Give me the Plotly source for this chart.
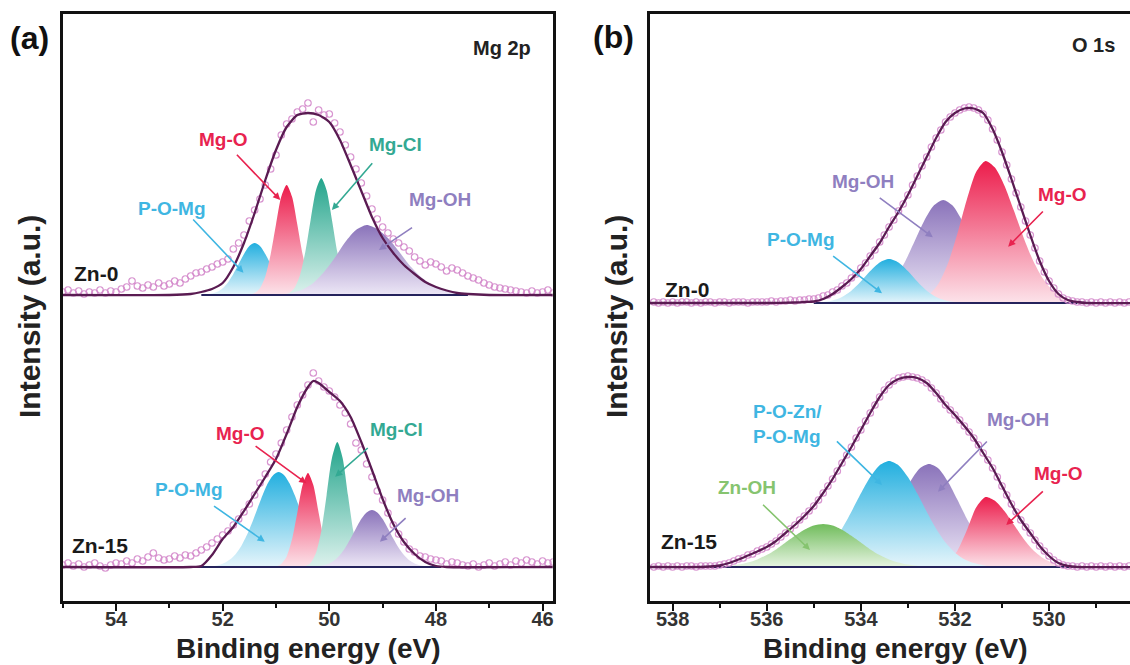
import plotly.graph_objects as go

W, H = 1130, 665
FONT = "Liberation Sans, Arial, Helvetica, sans-serif"

# ===================== DATA =====================
# Heights are intensities (a.u.) above each spectrum's own baseline; spectra are stacked.
# ---------- Panel (a): Mg 2p ----------
a_base_zn0 = 306
a_base_zn15 = 34

a_raw_start, a_raw_step = 55.0, 0.1
a_zn0_raw = [3, 5, 2, 4, 1, 3, 2, 5, 2, 4,
             3, 6, 8, 14, 9, 7, 10, 8, 12, 9,
             11, 14, 12, 16, 19, 22, 23, 26, 28, 31,
             33, 36, 46, 52, 60, 74, 85, 96, 110, 126,
             140, 160, 171, 176, 183, 186, 192, 173, 185, 180,
             181, 172, 163, 150, 138, 126, 112, 99, 86, 76,
             68, 62, 56, 52, 48, 44, 38, 34, 30, 33,
             31, 28, 24, 27, 25, 22, 19, 17, 15, 12,
             10, 8, 7, 6, 5, 4, 3, 2, 4, 2,
             3, 5, 2]
a_zn15_raw = [2, 4, 1, 3, 0, 2, 4, 1, -1, 2,
              4, 3, 6, 4, 8, 6, 10, 14, 9, 7,
              8, 11, 9, 12, 11, 14, 17, 20, 24, 28,
              32, 36, 42, 48, 55, 63, 72, 84, 93, 105,
              113, 124, 137, 150, 162, 172, 182, 194, 186, 180,
              176, 170, 162, 154, 143, 124, 117, 103, 90, 76,
              67, 54, 42, 33, 25, 18, 15, 11, 10, 8,
              7, 6, 3, 5, 4, 2, 1, 3, 0, 2,
              4, 1, 3, 5, 2, 6, 4, 7, 5, 3,
              6, 4, 5]

a_zn0_fit_x = [55.0, 53.0, 52.6, 52.4, 52.2, 52.0, 51.8, 51.6, 51.4, 51.2, 51.0, 50.8, 50.6, 50.4, 50.2,
               50.0, 49.8, 49.6, 49.4, 49.2, 49.0, 48.8, 48.6, 48.4, 48.2, 48.0, 47.8, 47.6, 47.4, 47.0, 45.8]
a_zn0_fit_y = [0, 0, 1, 3, 6, 12, 28, 52, 82, 115, 145, 168, 180, 182, 180,
               173, 155, 130, 104, 78, 57, 42, 30, 21, 13, 8, 4.5, 2, 1, 0, 0]
a_zn15_fit_x = [55.0, 52.6, 52.4, 52.2, 52.0, 51.8, 51.6, 51.4, 51.2, 51.0, 50.8, 50.6, 50.4, 50.3,
                50.2, 50.0, 49.8, 49.6, 49.4, 49.2, 49.0, 48.8, 48.6, 48.4, 48.2, 48.0, 47.8, 45.8]
a_zn15_fit_y = [0, 0, 1, 12, 28, 40, 56, 73, 90, 108, 133, 160, 180, 186,
                184, 175, 166, 150, 125, 97, 68, 43, 25, 13, 5, 1, 0, 0]

# components, Zn-0
a_zn0_pomg_x = [52.4, 52.3, 52.2, 52.1, 52.0, 51.9, 51.8, 51.7, 51.6, 51.5, 51.4,
                51.3, 51.2, 51.1, 51.0, 50.9, 50.8, 50.7, 50.6, 50.5, 50.4]
a_zn0_pomg_y = [0, 0.5, 1.4, 3.2, 6.8, 12.6, 21, 31, 41, 49, 52, 49, 41, 31, 21, 12.6, 6.8, 3.2, 1.4, 0.5, 0]
a_zn0_mgo_x = [51.6, 51.5, 51.4, 51.3, 51.2, 51.1, 51.0, 50.9, 50.8, 50.7, 50.6, 50.5, 50.4, 50.3, 50.2, 50.1, 50.0]
a_zn0_mgo_y = [0, 0.5, 2, 6.8, 18.6, 40.5, 70.5, 98.4, 110, 98.4, 70.5, 40.5, 18.6, 6.8, 2, 0.5, 0]
a_zn0_mgcl_x = [50.95, 50.85, 50.75, 50.65, 50.55, 50.45, 50.35, 50.25, 50.15,
                50.05, 49.95, 49.85, 49.75, 49.65, 49.55, 49.45, 49.35]
a_zn0_mgcl_y = [0, 0.5, 2.1, 7.3, 19.8, 43, 75, 104.7, 117, 104.7, 75, 43, 19.8, 7.3, 2.1, 0.5, 0]
a_zn0_mgoh_x = [51.1, 50.9, 50.7, 50.5, 50.3, 50.1, 49.9, 49.7, 49.5, 49.3,
                49.1, 48.9, 48.7, 48.5, 48.3, 48.1, 47.9, 47.7, 47.5, 47.3]
a_zn0_mgoh_y = [0, 0.7, 2.1, 5.4, 12, 23, 37, 53, 65, 70, 66, 57, 44, 30, 19, 11, 5.5, 2.5, 1, 0]

# components, Zn-15
a_zn15_pomg_x = [52.25, 52.15, 52.05, 51.95, 51.85, 51.75, 51.65, 51.55, 51.45, 51.35, 51.25, 51.15, 51.05,
                 50.95, 50.85, 50.75, 50.65, 50.55, 50.45, 50.35, 50.25, 50.15, 50.05, 49.95, 49.85, 49.75, 49.65]
a_zn15_pomg_y = [0, 1.1, 2.3, 4.4, 7.9, 13.3, 21, 31.4, 44, 58, 72, 84, 92.1, 95,
                 92.1, 84, 72, 58, 44, 31.4, 21, 13.3, 7.9, 4.4, 2.3, 1.1, 0]
a_zn15_mgo_x = [51.1, 51.0, 50.9, 50.8, 50.7, 50.6, 50.5, 50.4, 50.3, 50.2, 50.1, 50.0, 49.9, 49.8, 49.7]
a_zn15_mgo_y = [0, 0.7, 3.1, 10.5, 27.4, 54.3, 82, 94, 82, 54.3, 27.4, 10.5, 3.1, 0.7, 0]
a_zn15_mgcl_x = [50.55, 50.45, 50.35, 50.25, 50.15, 50.05, 49.95, 49.85, 49.75, 49.65, 49.55, 49.45, 49.35, 49.25, 49.15]
a_zn15_mgcl_y = [0, 0.9, 4, 14, 36, 72, 109, 125, 109, 72, 36, 14, 4, 0.9, 0]
a_zn15_mgoh_x = [50.3, 50.2, 50.1, 50.0, 49.9, 49.8, 49.7, 49.6, 49.5, 49.4, 49.3, 49.2,
                 49.1, 49.0, 48.9, 48.8, 48.7, 48.6, 48.5, 48.4, 48.3, 48.2, 48.1]
a_zn15_mgoh_y = [0, 0.7, 1.7, 3.6, 6.8, 12, 19.3, 28.5, 38.6, 48, 54.6, 57,
                 54.6, 48, 38.6, 28.5, 19.3, 12, 6.8, 3.6, 1.7, 0.7, 0]

# ---------- Panel (b): O 1s ----------
b_base_zn0 = 298
b_base_zn15 = 34

b_raw_start, b_raw_step = 538.4, 0.1
b_zn0_raw = [1, 0, 1, 0, 1, 0, 1, 1, 0, 1,
             0, 1, 1, 0, 1, 1, 0, 1, 1, 1,
             0, 1, 1, 1, 1, 2, 1, 2, 2, 3,
             2, 3, 3, 4, 4, 5, 7, 8, 11, 13,
             17, 20, 25, 29, 35, 40, 47, 53, 61, 68,
             76, 83, 92, 99, 108, 118, 127, 137, 146, 156,
             165, 173, 181, 186, 190, 193, 195, 196, 195, 193,
             189, 183, 174, 163, 151, 138, 124, 110, 96, 82,
             68, 55, 42, 31, 22, 15, 9, 5, 3, 2,
             1, 1, 0, 1, 0, 1, 0, 1, 0, 1,
             0, 1]
b_zn15_raw = [0, 1, 0, 1, 0, 1, 0, 1, 1, 0,
              1, 1, 1, 1, 2, 3, 4, 6, 8, 9,
              12, 13, 16, 18, 20, 23, 26, 30, 34, 38,
              42, 47, 51, 56, 61, 67, 74, 81, 88, 96,
              104, 112, 120, 129, 137, 146, 154, 162, 170, 177,
              182, 186, 189, 190, 191, 190, 189, 187, 184, 179,
              174, 168, 162, 157, 152, 147, 141, 135, 129, 122,
              114, 107, 99, 90, 81, 72, 63, 55, 47, 40,
              34, 27, 21, 16, 11, 7, 4, 2, 1, 1,
              0, 1, 0, 1, 0, 1, 0, 1, 0, 1,
              0, 1]

b_zn0_fit_x = [538.5, 536.0, 535.4, 535.2, 535.0, 534.8, 534.6, 534.4, 534.2, 534.0, 533.8, 533.6, 533.4, 533.2,
               533.0, 532.8, 532.6, 532.4, 532.2, 532.0, 531.8, 531.6, 531.4, 531.2, 531.0, 530.8, 530.6, 530.4,
               530.2, 530.0, 529.8, 529.6, 529.4, 529.2, 528.2]
b_zn0_fit_y = [0, 0, 0.5, 1, 1.5, 4, 9, 16, 24, 34, 47, 60, 76, 91,
               108, 127, 146, 165, 181, 190, 194.5, 194.5, 190, 174, 151, 124, 96, 68,
               42, 22, 9, 3, 1, 0, 0]
b_zn15_fit_x = [538.5, 537.4, 537.2, 537.0, 536.8, 536.6, 536.4, 536.2, 536.0, 535.8, 535.6, 535.4, 535.2, 535.0,
                534.8, 534.6, 534.4, 534.2, 534.0, 533.8, 533.6, 533.4, 533.2, 533.0, 532.8, 532.6, 532.4, 532.2,
                532.0, 531.8, 531.6, 531.4, 531.2, 531.0, 530.8, 530.6, 530.4, 530.2, 530.0, 529.8, 529.6, 529.4, 528.2]
b_zn15_fit_y = [0, 0, 0.5, 1.5, 4, 7.5, 11.5, 15.5, 20, 26, 34, 42, 51, 61,
                74, 88, 104, 120, 137, 154, 170, 182, 188, 190, 189, 184, 174, 162,
                152, 141, 129, 114, 99, 81, 63, 47, 34, 21, 11, 4, 1, 0, 0]

# components, Zn-0
b_zn0_pomg_x = [535.2, 535.0, 534.8, 534.6, 534.4, 534.2, 534.0, 533.8, 533.6, 533.4,
                533.2, 533.0, 532.8, 532.6, 532.4, 532.2, 532.0, 531.8, 531.6]
b_zn0_pomg_y = [0, 0.3, 0.9, 2.5, 6, 12.2, 21.4, 32, 40.6, 44, 40.6, 32, 21.4, 12.2, 6, 2.5, 0.9, 0.3, 0]
b_zn0_mgoh_x = [534.25, 534.05, 533.85, 533.65, 533.45, 533.25, 533.05, 532.85, 532.65, 532.45, 532.25,
                532.05, 531.85, 531.65, 531.45, 531.25, 531.05, 530.85, 530.65, 530.45, 530.25]
b_zn0_mgoh_y = [0, 1.1, 2.9, 6.8, 13.9, 25.7, 42.3, 62.5, 82.5, 97.4, 103,
                97.4, 82.5, 62.5, 42.3, 25.7, 13.9, 6.8, 2.9, 1.1, 0]
b_zn0_mgo_x = [533.15, 532.95, 532.75, 532.55, 532.35, 532.15, 531.95, 531.75, 531.55, 531.35,
               531.15, 530.95, 530.75, 530.55, 530.35, 530.15, 529.95, 529.75, 529.55, 529.35, 529.15]
b_zn0_mgo_y = [0, 0.9, 2.8, 8, 19.2, 39.5, 69, 103, 131, 142,
               135.4, 117.5, 92.7, 66.6, 43.5, 25.8, 14, 6.9, 3.1, 1.3, 0]

# components, Zn-15
b_zn15_znoh_x = [537.0, 536.8, 536.6, 536.4, 536.2, 536.0, 535.8, 535.6, 535.4, 535.2, 535.0, 534.8,
                 534.6, 534.4, 534.2, 534.0, 533.8, 533.6, 533.4, 533.2, 533.0, 532.8, 532.6]
b_zn15_znoh_y = [0, 1.2, 2.4, 4.5, 7.6, 12, 17.6, 24.4, 31.2, 37.3, 41.5, 43,
                 41.5, 37.3, 31.2, 24.4, 17.6, 12, 7.6, 4.5, 2.4, 1.2, 0]
b_zn15_pozn_x = [535.6, 535.4, 535.2, 535.0, 534.8, 534.6, 534.4, 534.2, 534.0, 533.8, 533.6, 533.4,
                 533.2, 533.0, 532.8, 532.6, 532.4, 532.2, 532.0, 531.8, 531.6, 531.4, 531.2]
b_zn15_pozn_y = [0, 1.8, 3.9, 7.8, 14.3, 24.4, 38.2, 55.2, 73.4, 90, 101.8, 106,
                 101.8, 90, 73.4, 55.2, 38.2, 24.4, 14.3, 7.8, 3.9, 1.8, 0]
b_zn15_mgoh_x = [534.75, 534.55, 534.35, 534.15, 533.95, 533.75, 533.55, 533.35, 533.15, 532.95, 532.75, 532.55,
                 532.35, 532.15, 531.95, 531.75, 531.55, 531.35, 531.15, 530.95, 530.75, 530.55, 530.35]
b_zn15_mgoh_y = [0, 0.9, 2.2, 5, 10.1, 18.8, 31.6, 48.5, 67.5, 85.5, 98.6, 103,
                 98.6, 85.5, 67.5, 48.5, 31.6, 18.8, 10.1, 5, 2.2, 0.9, 0]
b_zn15_mgo_x = [532.55, 532.35, 532.15, 531.95, 531.75, 531.55, 531.35, 531.15, 530.95, 530.75,
                530.55, 530.35, 530.15, 529.95, 529.75, 529.55, 529.35]
b_zn15_mgo_y = [0, 1.2, 5.1, 16.1, 36.4, 59.5, 70, 66.2, 56, 42.5, 28.8, 17.4, 9.5, 4.6, 2, 0.8, 0]

# ===================== STYLE =====================
COMP = {  # (top colour, bottom colour, label colour)
    "P-O-Mg": ("#22afdf", "#e6f5fb", "#3fb6e2"),
    "Mg-O": ("#ec1c4b", "#fce3ea", "#e8234f"),
    "Mg-Cl": ("#22a48b", "#ddf2ed", "#33a993"),
    "Mg-OH": ("#8a73ba", "#ede7f6", "#8f7fc0"),
    "Zn-OH": ("#70bc5b", "#e7f4e2", "#86c46f"),
}
RAW_COLOR = "rgba(212,138,203,0.9)"
FIT_COLOR = "#5a1b52"
BASE_COLOR = "#25235c"
AX_COLOR = "#111111"

fig = go.Figure()


def add_component(x, h, base, key, xa, ya):
    top, bot, _ = COMP[key]
    fig.add_trace(go.Scatter(
        x=x, y=[base + v for v in h], mode="lines",
        line=dict(width=0, shape="spline", smoothing=0.7, color=top),
        fill="toself", fillcolor=top,
        fillgradient=dict(type="vertical", colorscale=[[0, bot], [1, top]],
                          start=base, stop=base + max(h)),
        xaxis=xa, yaxis=ya, hoverinfo="skip", showlegend=False))


def add_spectrum(raw, start, step, fit_x, fit_y, base, base_span, xa, ya):
    fig.add_trace(go.Scatter(x=list(base_span), y=[base, base], mode="lines",
                             line=dict(color=BASE_COLOR, width=1.8),
                             xaxis=xa, yaxis=ya, hoverinfo="skip", showlegend=False))
    rx = [round(start - step * i, 2) for i in range(len(raw))]
    fig.add_trace(go.Scatter(x=rx, y=[base + v for v in raw], mode="markers",
                             marker=dict(symbol="circle-open", size=6.5, color=RAW_COLOR,
                                         line=dict(width=1.2)),
                             xaxis=xa, yaxis=ya, hoverinfo="skip", showlegend=False))
    fig.add_trace(go.Scatter(x=fit_x, y=[base + v for v in fit_y], mode="lines",
                             line=dict(color=FIT_COLOR, width=2.3, shape="spline", smoothing=0.6),
                             xaxis=xa, yaxis=ya, hoverinfo="skip", showlegend=False))


# ---- panel (a)
add_component(a_zn0_pomg_x, a_zn0_pomg_y, a_base_zn0, "P-O-Mg", "x", "y")
add_component(a_zn0_mgo_x, a_zn0_mgo_y, a_base_zn0, "Mg-O", "x", "y")
add_component(a_zn0_mgcl_x, a_zn0_mgcl_y, a_base_zn0, "Mg-Cl", "x", "y")
add_component(a_zn0_mgoh_x, a_zn0_mgoh_y, a_base_zn0, "Mg-OH", "x", "y")
add_spectrum(a_zn0_raw, a_raw_start, a_raw_step, a_zn0_fit_x, a_zn0_fit_y, a_base_zn0, (52.4, 47.4), "x", "y")

add_component(a_zn15_pomg_x, a_zn15_pomg_y, a_base_zn15, "P-O-Mg", "x", "y")
add_component(a_zn15_mgo_x, a_zn15_mgo_y, a_base_zn15, "Mg-O", "x", "y")
add_component(a_zn15_mgcl_x, a_zn15_mgcl_y, a_base_zn15, "Mg-Cl", "x", "y")
add_component(a_zn15_mgoh_x, a_zn15_mgoh_y, a_base_zn15, "Mg-OH", "x", "y")
add_spectrum(a_zn15_raw, a_raw_start, a_raw_step, a_zn15_fit_x, a_zn15_fit_y, a_base_zn15, (52.6, 47.9), "x", "y")

# ---- panel (b)
add_component(b_zn0_mgoh_x, b_zn0_mgoh_y, b_base_zn0, "Mg-OH", "x2", "y2")
add_component(b_zn0_mgo_x, b_zn0_mgo_y, b_base_zn0, "Mg-O", "x2", "y2")
add_component(b_zn0_pomg_x, b_zn0_pomg_y, b_base_zn0, "P-O-Mg", "x2", "y2")
add_spectrum(b_zn0_raw, b_raw_start, b_raw_step, b_zn0_fit_x, b_zn0_fit_y, b_base_zn0, (535.0, 529.4), "x2", "y2")

add_component(b_zn15_mgoh_x, b_zn15_mgoh_y, b_base_zn15, "Mg-OH", "x2", "y2")
add_component(b_zn15_mgo_x, b_zn15_mgo_y, b_base_zn15, "Mg-O", "x2", "y2")
add_component(b_zn15_pozn_x, b_zn15_pozn_y, b_base_zn15, "P-O-Mg", "x2", "y2")
add_component(b_zn15_znoh_x, b_zn15_znoh_y, b_base_zn15, "Zn-OH", "x2", "y2")
add_spectrum(b_zn15_raw, b_raw_start, b_raw_step, b_zn15_fit_x, b_zn15_fit_y, b_base_zn15, (537.2, 529.5), "x2", "y2")

# ===================== LAYOUT =====================
YDOM = [1 - 601 / H, 1 - 14 / H]
axis_common = dict(showgrid=False, zeroline=False, showline=True, linecolor=AX_COLOR, linewidth=2.5)
xcommon = dict(axis_common, ticks="outside", ticklen=7, tickwidth=2, tickcolor=AX_COLOR,
               dtick=2, tick0=0, ticklabelstandoff=-9,
               tickfont=dict(family=FONT, size=20, color="#333333", weight="bold"),
               minor=dict(dtick=1, ticks="outside", ticklen=4, tickwidth=2, tickcolor=AX_COLOR, showgrid=False))
ycommon = dict(axis_common, showticklabels=False, ticks="", range=[0, 587], domain=YDOM)

fig.update_layout(
    width=W, height=H, autosize=False,
    margin=dict(l=0, r=0, t=0, b=0),
    paper_bgcolor="white", plot_bgcolor="white",
    showlegend=False,
    xaxis=dict(xcommon, domain=[62.7 / W, 552.7 / W], range=[55.0, 45.81], anchor="y", mirror=True),
    yaxis=dict(ycommon, anchor="x", mirror=True),
    xaxis2=dict(xcommon, domain=[650 / W, 1.0], range=[538.48, 528.28], anchor="y2", mirror=True),
    yaxis2=dict(ycommon, anchor="x2", mirror=False),
)

ann = []


def paper_text(text, px, py, size, color="#111111", angle=0):
    ann.append(dict(text=text, x=px / W, y=1 - py / H, xref="paper", yref="paper",
                    xanchor="center", yanchor="middle", showarrow=False, textangle=angle,
                    font=dict(family=FONT, size=size, color=color, weight="bold")))


paper_text("(a)", 29, 38, 32)
paper_text("(b)", 613, 37, 32)
paper_text("Mg 2p", 502, 48, 20, "#222222")
paper_text("O 1s", 1093, 45, 20, "#222222")
paper_text("Binding energy (eV)", 308, 648, 28, "#222222")
paper_text("Binding energy (eV)", 895, 648, 28, "#222222")
paper_text("Intensity (a.u.)", 29, 317, 30, "#222222", -90)
paper_text("Intensity (a.u.)", 616, 317, 30, "#222222", -90)


def label(text, key, tx, ty, tail, head, xa, ya, xanchor="center", align="center"):
    col = COMP[key][2] if key else "#1a1a1a"
    size = 19 if key else 21
    ann.append(dict(text=text, x=tx, y=ty, xref=xa, yref=ya, showarrow=False,
                    xanchor=xanchor, yanchor="middle", align=align,
                    font=dict(family=FONT, size=size, color=col, weight="bold")))
    if tail is not None:
        ann.append(dict(text="", x=head[0], y=head[1], ax=tail[0], ay=tail[1],
                        xref=xa, yref=ya, axref=xa, ayref=ya, showarrow=True,
                        arrowhead=2, arrowsize=0.9, arrowwidth=1.6, arrowcolor=col, standoff=0))


# panel (a) Zn-0
label("P-O-Mg", "P-O-Mg", 52.95, 392.7, (52.58, 383), (51.61, 328.3), "x", "y")
label("Mg-O", "Mg-O", 51.98, 461, (51.76, 447.7), (50.92, 401), "x", "y")
label("Mg-Cl", "Mg-Cl", 48.76, 456, (49.17, 439.3), (49.95, 391), "x", "y")
label("Mg-OH", "Mg-OH", 47.92, 401, (48.42, 374.3), (49.07, 351), "x", "y")
label("Zn-0", None, 54.38, 327, None, None, "x", "y")
# panel (a) Zn-15
label("Mg-O", "Mg-O", 51.66, 167.7, (51.41, 156), (50.43, 117.7), "x", "y")
label("Mg-Cl", "Mg-Cl", 48.74, 171, (49.25, 154.3), (49.89, 124.3), "x", "y")
label("P-O-Mg", "P-O-Mg", 52.63, 111.7, (52.19, 96), (51.21, 59.3), "x", "y")
label("Mg-OH", "Mg-OH", 48.14, 105, (48.54, 84.3), (49.05, 59.3), "x", "y")
label("Zn-15", None, 54.30, 56, None, None, "x", "y")
# panel (b) Zn-0
label("Mg-OH", "Mg-OH", 533.95, 419.3, (533.63, 404.3), (532.47, 363.7), "x2", "y2")
label("P-O-Mg", "P-O-Mg", 535.27, 361.7, (534.62, 346), (533.55, 307.7), "x2", "y2")
label("Mg-O", "Mg-O", 529.72, 406, (530.10, 391), (530.87, 354.3), "x2", "y2")
label("Zn-0", None, 537.69, 311, None, None, "x2", "y2")
# panel (b) Zn-15
label("P-O-Zn/<br>P-O-Mg", "P-O-Mg", 536.34, 177.3, (534.54, 161), (533.55, 116), "x2", "y2",
      xanchor="left", align="left")
label("Mg-OH", "Mg-OH", 530.67, 181, (531.29, 161), (532.36, 109.3), "x2", "y2")
label("Mg-O", "Mg-O", 529.79, 127.7, (530.10, 111), (530.91, 76), "x2", "y2")
label("Zn-OH", "Zn-OH", 536.42, 113.7, (536.11, 97.7), (535.08, 51), "x2", "y2")
label("Zn-15", None, 537.65, 59.3, None, None, "x2", "y2")

fig.update_layout(annotations=ann)

fig.write_html("out.html")
